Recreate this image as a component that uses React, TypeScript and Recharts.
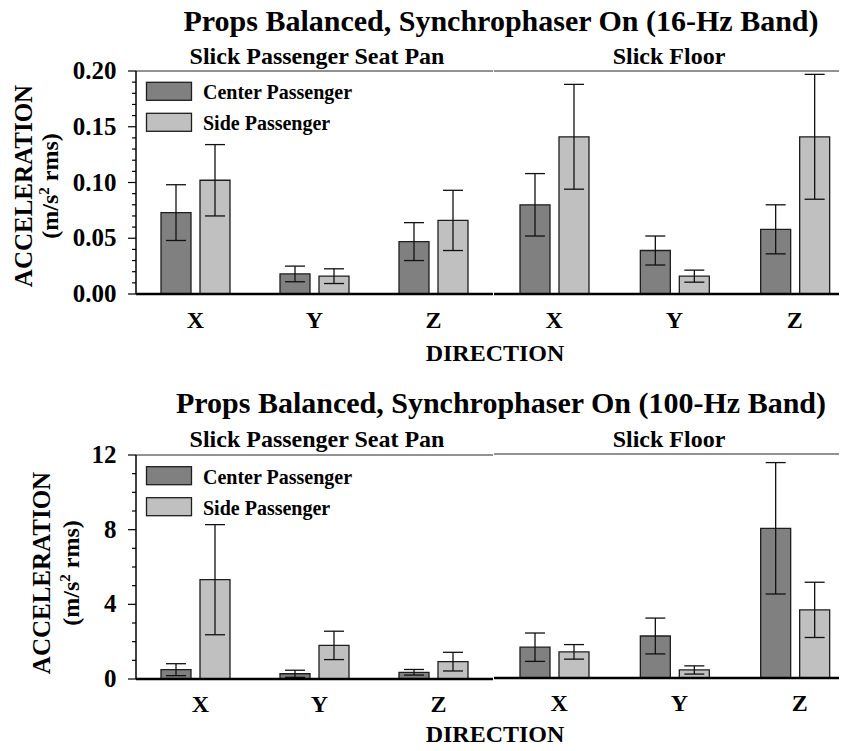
import { Bar, BarChart, ErrorBar, ReferenceLine, XAxis, YAxis } from "recharts";

const FONT = '"Liberation Serif", "Times New Roman", serif';
const CENTER_FILL = "#808080";
const SIDE_FILL = "#c0c0c0";

const directions = ["X", "Y", "Z"];

// 16-Hz band, m/s^2 rms (mean and +/- spread)
const seat16Center = [0.073, 0.018, 0.047];
const seat16CenterErr = [0.025, 0.007, 0.017];
const seat16Side = [0.102, 0.016, 0.066];
const seat16SideErr = [0.032, 0.0066, 0.027];
const floor16Center = [0.08, 0.039, 0.058];
const floor16CenterErr = [0.028, 0.013, 0.022];
const floor16Side = [0.141, 0.016, 0.141];
const floor16SideErr = [0.047, 0.0054, 0.056];

// 100-Hz band
const seat100Center = [0.5, 0.28, 0.36];
const seat100CenterErr = [0.32, 0.19, 0.15];
const seat100Side = [5.32, 1.8, 0.93];
const seat100SideErr = [2.95, 0.76, 0.5];
const floor100Center = [1.65, 2.25, 8.02];
const floor100CenterErr = [0.76, 0.96, 3.52];
const floor100Side = [1.4, 0.43, 3.65];
const floor100SideErr = [0.39, 0.22, 1.48];

const ticks16 = [
  0, 0.01, 0.02, 0.03, 0.04, 0.05, 0.06, 0.07, 0.08, 0.09, 0.1, 0.11, 0.12, 0.13, 0.14, 0.15, 0.16, 0.17, 0.18,
  0.19, 0.2,
];
const majorTicks16 = [0, 0.05, 0.1, 0.15, 0.2];
const ticks100 = [0, 1, 2, 3, 4, 5, 6, 7, 8, 9, 10, 11, 12];
const majorTicks100 = [0, 4, 8, 12];

const legendItems = [
  { name: "Center Passenger", fill: CENTER_FILL },
  { name: "Side Passenger", fill: SIDE_FILL },
];

// room above and below each figure for text that pokes out of it
const BLEED = 8;

function rowsOf(center: number[], centerErr: number[], side: number[], sideErr: number[]) {
  return directions.map((dir, i) => ({
    dir,
    center: center[i],
    centerErr: centerErr[i],
    side: side[i],
    sideErr: sideErr[i],
  }));
}

type PanelProps = {
  rows: ReturnType<typeof rowsOf>;
  max: number;
  ticks: number[];
  majors: number[];
  digits: number;
  first: boolean;
  height: number;
  top: number;
  axisHeight: number;
  labelDx: number;
  labelDy: number;
};

function Panel({ rows, max, ticks, majors, digits, first, height, top, axisHeight, labelDx, labelDy }: PanelProps) {
  const isMajor = (v: number) => majors.some((m) => Math.abs(m - v) < 1e-9);
  return (
    <BarChart
      width={first ? 486 : 368}
      height={height}
      data={rows}
      margin={{ top, right: first ? 1 : 0, bottom: 0, left: first ? 0 : 7 }}
      barSize={30}
      barGap={9}
    >
      <ReferenceLine y={max} stroke="#6e6e6e" strokeWidth={1.5} />
      <XAxis
        dataKey="dir"
        height={axisHeight}
        interval={0}
        tickLine={false}
        tickSize={0}
        tickMargin={0}
        axisLine={{ stroke: "#000", strokeWidth: 2.5 }}
        tick={(p: any) => (
          <text
            x={p.x + labelDx}
            y={p.y + labelDy}
            textAnchor="middle"
            fontFamily={FONT}
            fontWeight="bold"
            fontSize={24}
            fill="#000"
          >
            {p.payload.value}
          </text>
        )}
      />
      <YAxis
        type="number"
        domain={[0, max]}
        ticks={ticks}
        interval={0}
        width={first ? 128 : 0}
        tickLine={false}
        tickSize={0}
        tickMargin={0}
        axisLine={{ stroke: "#000", strokeWidth: 1.5 }}
        tick={(p: any) => {
          const v = p.payload.value as number;
          const major = isMajor(v);
          if (!first) {
            return <line x1={p.x - (major ? 6 : 3)} x2={p.x + 3} y1={p.y} y2={p.y} stroke="#000" strokeWidth={1.2} />;
          }
          return (
            <g>
              <line x1={p.x - (major ? 8 : 4)} x2={p.x} y1={p.y} y2={p.y} stroke="#000" strokeWidth={1.2} />
              {major ? (
                <text
                  x={p.x - 19.5}
                  y={p.y + 8}
                  textAnchor="end"
                  fontFamily={FONT}
                  fontWeight="bold"
                  fontSize={25}
                  fill="#000"
                >
                  {v.toFixed(digits)}
                </text>
              ) : null}
            </g>
          );
        }}
      />
      <Bar dataKey="center" fill={CENTER_FILL} stroke="#1e1e1e" strokeWidth={1.3} isAnimationActive={false}>
        <ErrorBar dataKey="centerErr" width={10} stroke="#111" strokeWidth={1.3} isAnimationActive={false} />
      </Bar>
      <Bar dataKey="side" fill={SIDE_FILL} stroke="#1e1e1e" strokeWidth={1.3} isAnimationActive={false}>
        <ErrorBar dataKey="sideErr" width={10} stroke="#111" strokeWidth={1.3} isAnimationActive={false} />
      </Bar>
    </BarChart>
  );
}

type FigureProps = {
  title: string;
  height: number;
  seatRows: ReturnType<typeof rowsOf>;
  floorRows: ReturnType<typeof rowsOf>;
  max: number;
  ticks: number[];
  majors: number[];
  digits: number;
  plotTop: [number, number];
  axisHeight: [number, number];
  labelDx: number;
  labelDy: number;
  titleY: number;
  subtitleY: number;
  legendY: number;
  yLabelX: number;
  unitX: number;
  yLabelY: number;
  directionY: number;
};

function Figure(f: FigureProps) {
  const text = { fontFamily: FONT, fontWeight: "bold" as const, fill: "#000" };
  return (
    <div style={{ position: "relative", width: 839, height: f.height }}>
      <div style={{ position: "absolute", left: 0, top: 0 }}>
        <Panel
          rows={f.seatRows}
          max={f.max}
          ticks={f.ticks}
          majors={f.majors}
          digits={f.digits}
          first
          height={f.height}
          top={f.plotTop[0]}
          axisHeight={f.axisHeight[0]}
          labelDx={f.labelDx}
          labelDy={f.labelDy}
        />
      </div>
      <div style={{ position: "absolute", left: 479, top: 0 }}>
        <Panel
          rows={f.floorRows}
          max={f.max}
          ticks={f.ticks}
          majors={f.majors}
          digits={f.digits}
          first={false}
          height={f.height}
          top={f.plotTop[1]}
          axisHeight={f.axisHeight[1]}
          labelDx={f.labelDx}
          labelDy={f.labelDy}
        />
      </div>
      <svg
        width={839}
        height={f.height + 2 * BLEED}
        style={{ position: "absolute", left: 0, top: -BLEED, pointerEvents: "none" }}
      >
        <g transform={`translate(0 ${BLEED})`}>
          <text x={493} y={f.titleY} textAnchor="middle" fontSize={30} {...text}>
            {f.title}
          </text>
          <text x={309} y={f.subtitleY} textAnchor="middle" fontSize={24} {...text}>
            Slick Passenger Seat Pan
          </text>
          <text x={661} y={f.subtitleY} textAnchor="middle" fontSize={24} {...text}>
            Slick Floor
          </text>
          {legendItems.map((item, i) => (
            <g key={item.name}>
              <rect
                x={138.5}
                y={f.legendY + i * 31}
                width={45}
                height={18}
                fill={item.fill}
                stroke="#1e1e1e"
                strokeWidth={1.3}
              />
              <text x={195} y={f.legendY + i * 31 + 17} fontSize={20} {...text}>
                {item.name}
              </text>
            </g>
          ))}
          <text
            x={f.yLabelX}
            y={f.yLabelY}
            transform={`rotate(-90 ${f.yLabelX} ${f.yLabelY})`}
            textAnchor="middle"
            fontSize={25}
            {...text}
          >
            ACCELERATION
          </text>
          <text
            x={f.unitX}
            y={f.yLabelY}
            transform={`rotate(-90 ${f.unitX} ${f.yLabelY})`}
            textAnchor="middle"
            fontSize={24}
            {...text}
          >
            (m/s
            <tspan dy={-9} fontSize={15}>
              2
            </tspan>
            <tspan dy={9}> rms)</tspan>
          </text>
          <text x={487} y={f.directionY} textAnchor="middle" fontSize={24} {...text}>
            DIRECTION
          </text>
        </g>
      </svg>
    </div>
  );
}

export default function App() {
  // the floor panel runs past the right edge; clip it sideways only.
  // padding + negative margin stretch the box over the body margin so the
  // title and bottom label stay inside it
  return (
    <div
      style={{
        width: 839,
        overflowX: "clip",
        overflowY: "visible",
        background: "#fff",
        margin: `-${BLEED}px 0`,
        padding: `${BLEED}px 0`,
      }}
    >
      <Figure
        title="Props Balanced, Synchrophaser On (16-Hz Band)"
        height={370}
        seatRows={rowsOf(seat16Center, seat16CenterErr, seat16Side, seat16SideErr)}
        floorRows={rowsOf(floor16Center, floor16CenterErr, floor16Side, floor16SideErr)}
        max={0.2}
        ticks={ticks16}
        majors={majorTicks16}
        digits={2}
        plotTop={[63, 63]}
        axisHeight={[84, 84]}
        labelDx={0}
        labelDy={34}
        titleY={23}
        subtitleY={55.5}
        legendY={74.3}
        yLabelX={24}
        unitX={50}
        yLabelY={178}
        directionY={352.7}
      />
      <Figure
        title="Props Balanced, Synchrophaser On (100-Hz Band)"
        height={365}
        seatRows={rowsOf(seat100Center, seat100CenterErr, seat100Side, seat100SideErr)}
        floorRows={rowsOf(floor100Center, floor100CenterErr, floor100Side, floor100SideErr)}
        max={12}
        ticks={ticks100}
        majors={majorTicks100}
        digits={0}
        plotTop={[77, 76]}
        axisHeight={[64, 65]}
        labelDx={5}
        labelDy={33}
        titleY={35.3}
        subtitleY={68.7}
        legendY={88.7}
        yLabelX={42}
        unitX={71}
        yLabelY={195}
        directionY={363.7}
      />
    </div>
  );
}
